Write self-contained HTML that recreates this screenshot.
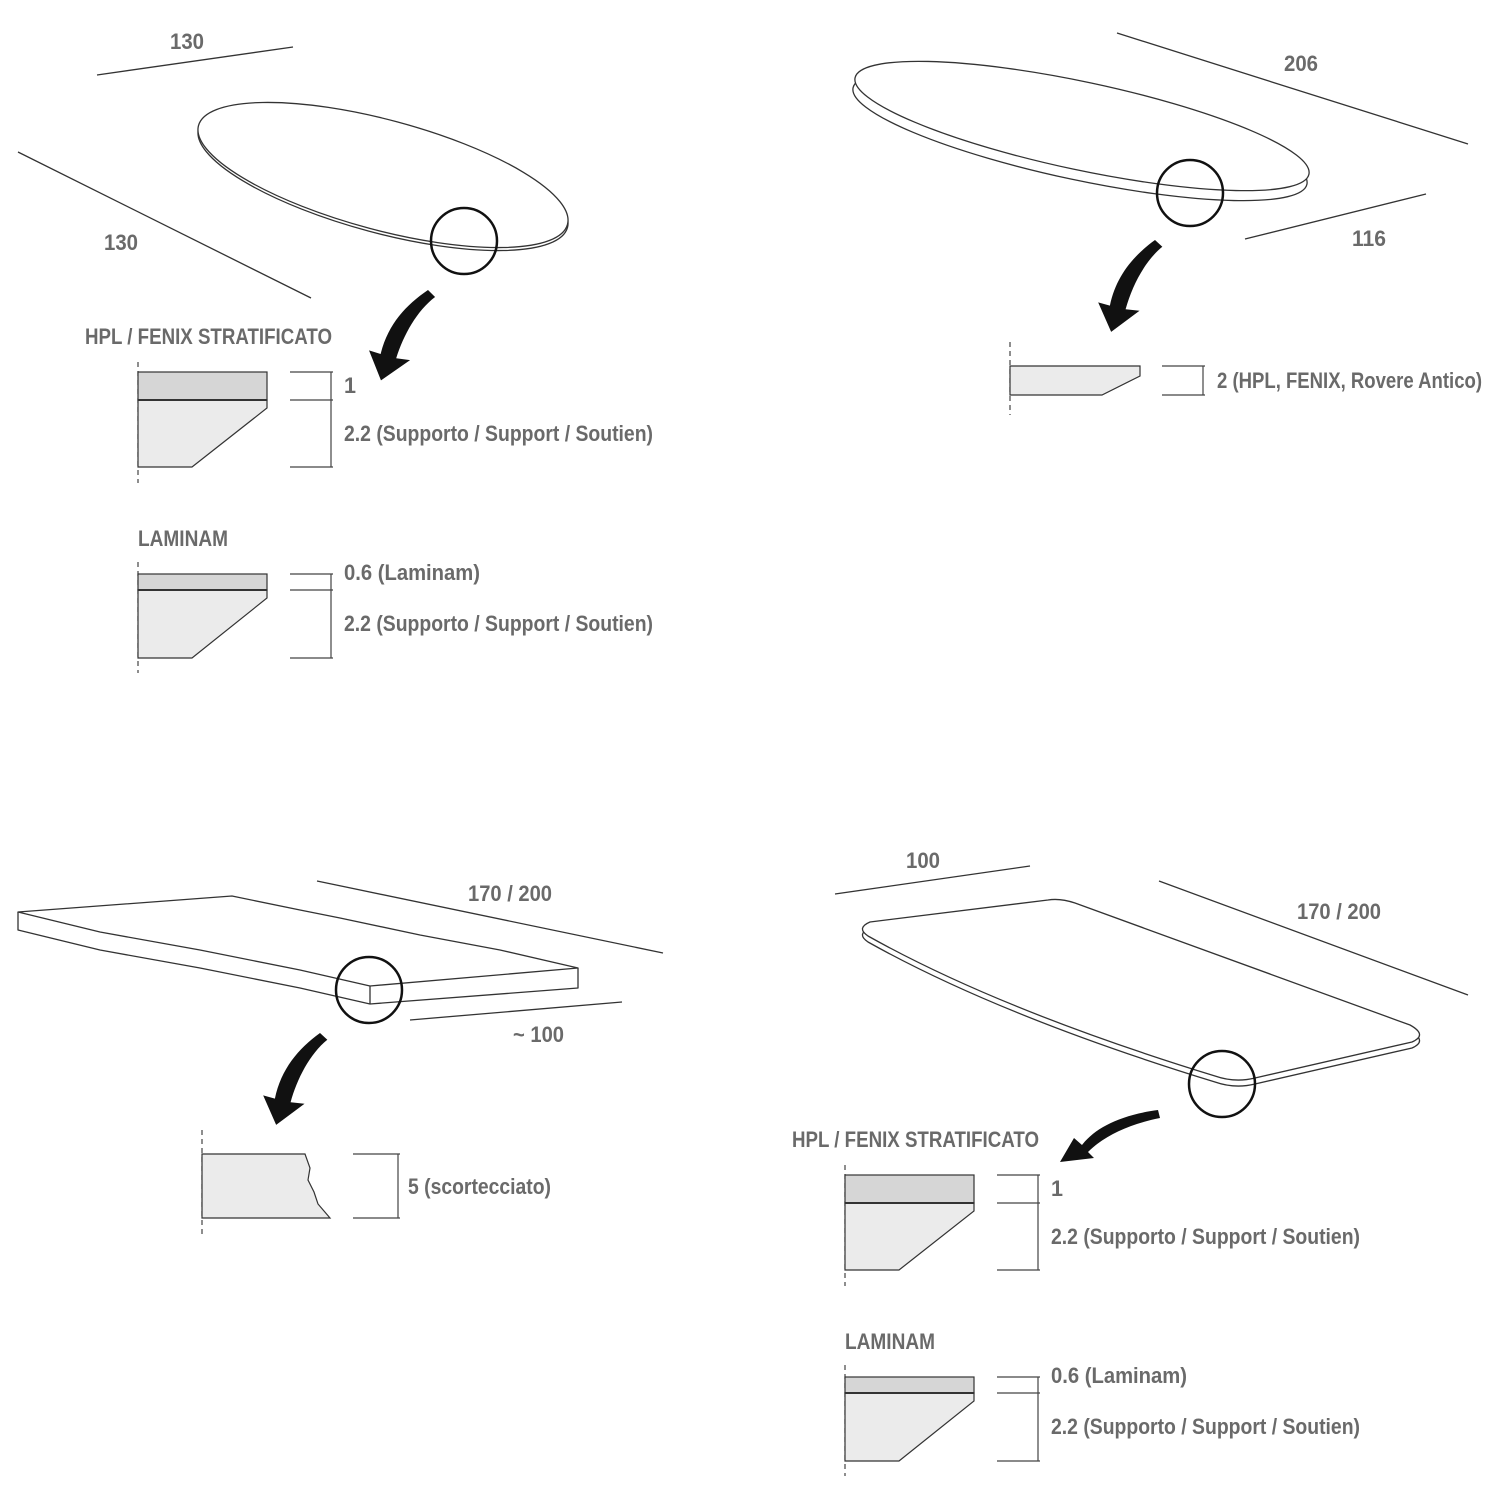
<!DOCTYPE html>
<html><head><meta charset="utf-8"><style>
html,body{margin:0;padding:0;background:#fff;}
svg text{font-family:"Liberation Sans",sans-serif;font-weight:bold;fill:#6a6a6a;font-size:22px;}
</style></head><body>
<svg width="1500" height="1500" viewBox="0 0 1500 1500" xmlns="http://www.w3.org/2000/svg">
<defs>
<g id="prof1">
  <line x1="138" y1="362" x2="138" y2="483" stroke="#444" stroke-width="1.2" stroke-dasharray="5,4"/>
  <rect x="138" y="372" width="129" height="28" fill="#d6d6d6" stroke="#333" stroke-width="1.2"/>
  <polygon points="138,400 267,400 267,408 192,467 138,467" fill="#ebebeb" stroke="#333" stroke-width="1.2"/>
  <line x1="138" y1="400" x2="267" y2="400" stroke="#333" stroke-width="2"/>
  <g stroke="#444" stroke-width="1.2"><line x1="290" y1="372" x2="333" y2="372"/><line x1="290" y1="400" x2="333" y2="400"/><line x1="290" y1="467" x2="333" y2="467"/><line x1="331" y1="372" x2="331" y2="467"/></g>
  <text x="344" y="393" textLength="12" lengthAdjust="spacingAndGlyphs">1</text>
  <text x="344" y="441" textLength="309" lengthAdjust="spacingAndGlyphs">2.2 (Supporto / Support / Soutien)</text>
</g>
<g id="prof2">
  <line x1="138" y1="562" x2="138" y2="673" stroke="#444" stroke-width="1.2" stroke-dasharray="5,4"/>
  <rect x="138" y="574" width="129" height="16" fill="#d6d6d6" stroke="#333" stroke-width="1.2"/>
  <polygon points="138,590 267,590 267,598 192,658 138,658" fill="#ebebeb" stroke="#333" stroke-width="1.2"/>
  <line x1="138" y1="590" x2="267" y2="590" stroke="#333" stroke-width="2"/>
  <g stroke="#444" stroke-width="1.2"><line x1="290" y1="574" x2="333" y2="574"/><line x1="290" y1="590" x2="333" y2="590"/><line x1="290" y1="658" x2="333" y2="658"/><line x1="331" y1="574" x2="331" y2="658"/></g>
  <text x="344" y="580" textLength="136" lengthAdjust="spacingAndGlyphs">0.6 (Laminam)</text>
  <text x="344" y="631" textLength="309" lengthAdjust="spacingAndGlyphs">2.2 (Supporto / Support / Soutien)</text>
</g>
<path id="arr" d="M0,0 C-20,18 -35,40 -38,70 L-50,68 L-34,96 L-8,72 L-22,72 C-18,48 -8,22 8,6 Z" fill="#111"/>
</defs>

<!-- TOP LEFT -->
<g stroke="#333" stroke-width="1.3">
  <line x1="97" y1="75" x2="293" y2="47"/>
  <line x1="18" y1="152" x2="311" y2="298"/>
  <ellipse cx="383" cy="175" rx="191" ry="55" transform="translate(0,3) rotate(15 383 175)" fill="none"/>
  <ellipse cx="383" cy="175" rx="191" ry="55" transform="rotate(15 383 175)" fill="#fff"/>
</g>
<circle cx="464" cy="241" r="33" fill="none" stroke="#111" stroke-width="2.5"/>
<text x="170" y="49" textLength="34" lengthAdjust="spacingAndGlyphs">130</text>
<text x="104" y="250" textLength="34" lengthAdjust="spacingAndGlyphs">130</text>
<use href="#arr" transform="translate(428,290) rotate(8)"/>
<text x="85" y="344" textLength="247" lengthAdjust="spacingAndGlyphs">HPL / FENIX STRATIFICATO</text>
<use href="#prof1"/>
<text x="138" y="546" textLength="90" lengthAdjust="spacingAndGlyphs">LAMINAM</text>
<use href="#prof2"/>

<!-- TOP RIGHT -->
<g stroke="#333" stroke-width="1.3">
  <line x1="1117" y1="33" x2="1468" y2="144"/>
  <line x1="1245" y1="239" x2="1426" y2="194"/>
  <ellipse cx="1082" cy="126" rx="232" ry="44" transform="translate(-2,10) rotate(12 1082 126)" fill="none"/>
  <ellipse cx="1082" cy="126" rx="232" ry="44" transform="rotate(12 1082 126)" fill="#fff"/>
</g>
<circle cx="1190" cy="193" r="33" fill="none" stroke="#111" stroke-width="2.5"/>
<text x="1284" y="71" textLength="34" lengthAdjust="spacingAndGlyphs">206</text>
<text x="1352" y="246" textLength="34" lengthAdjust="spacingAndGlyphs">116</text>
<use href="#arr" transform="translate(1155,240) rotate(6)"/>
<line x1="1010" y1="342" x2="1010" y2="415" stroke="#444" stroke-width="1.2" stroke-dasharray="5,4"/>
<polygon points="1010,366 1140,366 1140,376 1102,395 1010,395" fill="#ebebeb" stroke="#333" stroke-width="1.2"/>
<g stroke="#444" stroke-width="1.2"><line x1="1162" y1="366" x2="1205" y2="366"/><line x1="1162" y1="395" x2="1205" y2="395"/><line x1="1203" y1="366" x2="1203" y2="395"/></g>
<text x="1217" y="388" textLength="265" lengthAdjust="spacingAndGlyphs">2 (HPL, FENIX, Rovere Antico)</text>

<!-- BOTTOM LEFT -->
<g stroke="#333" stroke-width="1.3" fill="none" stroke-linejoin="round">
  <line x1="317" y1="881" x2="663" y2="953"/>
  <line x1="410" y1="1020" x2="622" y2="1002"/>
  <path d="M18,912 L232,896 L300,910 L340,918 L420,935 L500,950 L578,968 L370,986 L300,970 L200,950 L100,932 Z"/>
  <path d="M18,912 L18,930 L100,950 L200,968 L300,988 L370,1004 L578,988 L578,968"/>
  <line x1="370" y1="986" x2="370" y2="1004"/>
</g>
<circle cx="369" cy="990" r="33" fill="none" stroke="#111" stroke-width="2.5"/>
<text x="468" y="901" textLength="84" lengthAdjust="spacingAndGlyphs">170 / 200</text>
<text x="513" y="1042" textLength="51" lengthAdjust="spacingAndGlyphs">~ 100</text>
<use href="#arr" transform="translate(320,1033) rotate(6)"/>
<line x1="202" y1="1130" x2="202" y2="1238" stroke="#444" stroke-width="1.2" stroke-dasharray="5,4"/>
<path d="M202,1154 L305,1154 L310,1168 L308,1180 L314,1192 L318,1204 L330,1218 L202,1218 Z" fill="#ebebeb" stroke="#333" stroke-width="1.2"/>
<g stroke="#444" stroke-width="1.2"><line x1="353" y1="1154" x2="400" y2="1154"/><line x1="353" y1="1218" x2="400" y2="1218"/><line x1="398" y1="1154" x2="398" y2="1218"/></g>
<text x="408" y="1194" textLength="143" lengthAdjust="spacingAndGlyphs">5 (scortecciato)</text>

<!-- BOTTOM RIGHT -->
<g stroke="#333" stroke-width="1.3">
  <line x1="835" y1="894" x2="1030" y2="866"/>
  <line x1="1159" y1="881" x2="1468" y2="995"/>
  <path transform="translate(0,6)" d="M870,922 L1048,900 Q1060,898 1075,903 L1410,1025 Q1428,1035 1412,1042 L1255,1078 Q1235,1083 1215,1076 Q1000,1010 868,936 Q856,928 870,922 Z" fill="none"/>
  <path d="M870,922 L1048,900 Q1060,898 1075,903 L1410,1025 Q1428,1035 1412,1042 L1255,1078 Q1235,1083 1215,1076 Q1000,1010 868,936 Q856,928 870,922 Z" fill="#fff"/>
</g>
<circle cx="1222" cy="1084" r="33" fill="none" stroke="#111" stroke-width="2.5"/>
<text x="906" y="868" textLength="34" lengthAdjust="spacingAndGlyphs">100</text>
<text x="1297" y="919" textLength="84" lengthAdjust="spacingAndGlyphs">170 / 200</text>
<path d="M1158,1110 C1120,1115 1095,1128 1082,1145 L1074,1138 L1060,1162 L1094,1158 L1088,1152 C1105,1135 1130,1124 1160,1118 Z" fill="#111"/>
<text x="792" y="1147" textLength="247" lengthAdjust="spacingAndGlyphs">HPL / FENIX STRATIFICATO</text>
<use href="#prof1" transform="translate(707,803)"/>
<text x="845" y="1349" textLength="90" lengthAdjust="spacingAndGlyphs">LAMINAM</text>
<use href="#prof2" transform="translate(707,803)"/>
</svg>
</body></html>
